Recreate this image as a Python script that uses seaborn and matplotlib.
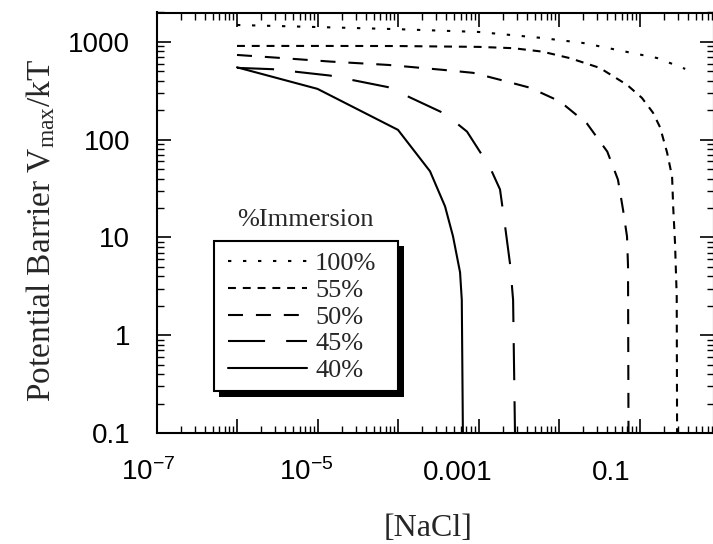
import numpy as np
import pandas as pd
import matplotlib
matplotlib.use("Agg")
import matplotlib.pyplot as plt
import seaborn as sns
from matplotlib.lines import Line2D
from matplotlib.patches import Rectangle
from matplotlib.font_manager import FontProperties
from matplotlib.transforms import ScaledTranslation
from matplotlib.ticker import FixedLocator, FixedFormatter, LogLocator, NullFormatter

# Barrier height V_max/kT against NaCl concentration (M), one curve per immersion level
nacl_100 = [1e-6, 1e-5, 1e-4, 1e-3, 6e-3, 0.02, 0.07, 0.165, 0.37]
vmax_100 = [1490, 1420, 1350, 1265, 1100, 975, 790, 685, 530]

nacl_55 = [1e-6, 1e-5, 1e-4, 1e-3, 2.7e-3, 6.2e-3, 0.0137, 0.032, 0.07, 0.107,
           0.147, 0.18, 0.22, 0.254, 0.262, 0.276, 0.290, 0.293]
vmax_55 = [910, 910, 908, 890, 863, 796, 682, 543, 364, 268,
           189, 134, 74, 42, 20.7, 8.9, 2.5, 0.1]

nacl_50 = [1e-6, 2.96e-6, 1.43e-5, 7.5e-5, 3.62e-4, 8.55e-4, 2.01e-3, 4.37e-3,
           0.0103, 0.0223, 0.0398, 0.054, 0.0624, 0.070, 0.072, 0.073]
vmax_50 = [736, 692, 630, 582, 518, 483, 403, 340,
           246, 146, 75.5, 39, 19.3, 10.2, 5.1, 0.1]

nacl_45 = [1e-6, 2.8e-6, 1.43e-5, 7.5e-5, 3.84e-4, 7.2e-4, 1.39e-3, 1.85e-3,
           2.14e-3, 2.47e-3, 2.69e-3, 2.84e-3]
vmax_45 = [543, 526, 453, 345, 184, 121, 52, 31,
           13, 5.3, 2.3, 0.1]

nacl_40 = [1e-6, 1e-5, 1e-4, 2.5e-4, 3.84e-4, 4.82e-4, 5.9e-4, 6.2e-4, 6.4e-4]
vmax_40 = [550, 331, 126, 47.5, 20.8, 10.3, 4.4, 2.3, 0.1]

immersion_labels = ["100%", "55%", "50%", "45%", "40%"]

x_ticks = [1e-7, 1e-6, 1e-5, 1e-4, 1e-3, 1e-2, 1e-1]
x_tick_labels = [r"$10^{-7}$", "", r"$10^{-5}$", "", "0.001", "", "0.1"]
y_ticks = [0.1, 1, 10, 100, 1000]
y_tick_labels = ["0.1", "1", "10", "100", "1000"]

# dash patterns (on, off) in units of line width
dash_map = {
    "100%": (1.6, 5.6),
    "55%": (3.8, 3.3),
    "50%": (7.2, 6.2),
    "45%": (17.8, 10.1),
    "40%": "",
}

frames = []
for lab, xs, ys in zip(immersion_labels,
                       [nacl_100, nacl_55, nacl_50, nacl_45, nacl_40],
                       [vmax_100, vmax_55, vmax_50, vmax_45, vmax_40]):
    frames.append(pd.DataFrame({"NaCl": xs, "Vmax": ys, "immersion": lab}))
df = pd.concat(frames, ignore_index=True)

sns.set_theme(style="ticks")
plt.rcParams.update({
    "font.family": ["Liberation Sans", "DejaVu Sans"],
    "mathtext.default": "regular",
    "axes.edgecolor": "black",
    "axes.linewidth": 1.5,
    "xtick.color": "black",
    "ytick.color": "black",
})

W, H = 713, 544
fig = plt.figure(figsize=(W / 100, H / 100), dpi=100)
left_px, right_px, top_px, bottom_px = 156.5, 714.0, 12.5, 433.0
ax = fig.add_axes([left_px / W, (H - bottom_px) / H,
                   (right_px - left_px) / W, (bottom_px - top_px) / H])
ax.set_xscale("log")
ax.set_yscale("log")

lw = 1.5
sns.lineplot(data=df, x="NaCl", y="Vmax", style="immersion",
             style_order=immersion_labels, dashes=dash_map, color="black",
             linewidth=lw, sort=False, estimator=None, legend=False, ax=ax)

ax.set_xlim(1e-7, 10 ** ((right_px - left_px) / 80.5 - 7))
ax.set_ylim(0.1, 2000)

ax.xaxis.set_major_locator(FixedLocator(x_ticks))
ax.xaxis.set_major_formatter(FixedFormatter(x_tick_labels))
ax.xaxis.set_minor_locator(LogLocator(base=10, subs=np.arange(2, 10), numticks=30))
ax.xaxis.set_minor_formatter(NullFormatter())
ax.yaxis.set_major_locator(FixedLocator(y_ticks))
ax.yaxis.set_major_formatter(FixedFormatter(y_tick_labels))
ax.yaxis.set_minor_locator(LogLocator(base=10, subs=np.arange(2, 10), numticks=30))
ax.yaxis.set_minor_formatter(NullFormatter())

ax.tick_params(which="both", direction="in", top=True, right=True, colors="black")
ax.tick_params(which="major", length=10, width=1.2, labelsize=20)
ax.tick_params(which="minor", length=5, width=1.0)
ax.tick_params(axis="x", which="major", pad=34)
ax.tick_params(axis="y", which="major", pad=19)

# x labels sit on a common baseline, set slightly left of their ticks
x_label_shift_px = [-8, 0, -11, 0, -21, 0, -28]
for t, dx in zip(ax.get_xticklabels(), x_label_shift_px):
    t.set_verticalalignment("baseline")
    t.set_transform(t.get_transform() + ScaledTranslation(dx / 100, 0, fig.dpi_scale_trans))

serif = "Liberation Serif"
ax.set_xlabel("[NaCl]", fontsize=23, family=serif)
ax.xaxis.label.set_verticalalignment("baseline")
ax.xaxis.set_label_coords((428 - left_px) / (right_px - left_px),
                          -(536 - bottom_px) / (bottom_px - top_px))
ax.set_ylabel(r"Potential Barrier V$_{max}$/kT", fontsize=24, family=serif)
ax.yaxis.set_label_coords((57 - left_px) / (right_px - left_px),
                          (bottom_px - 230) / (bottom_px - top_px))

# legend box with drop shadow
def fig_rect(x0, y0, x1, y1, **kw):
    return Rectangle((x0 / W, 1 - y1 / H), (x1 - x0) / W, (y1 - y0) / H,
                     transform=fig.transFigure, clip_on=False, **kw)

ax.add_patch(fig_rect(219, 246, 404, 397, facecolor="black", edgecolor="none", zorder=3.5))
ax.add_patch(fig_rect(214, 241, 398, 391, facecolor="white", edgecolor="black",
                      linewidth=1.5, zorder=4))

handles = []
for lab in immersion_labels:
    h = Line2D([], [], color="black", lw=lw, linestyle="-")
    if dash_map[lab]:
        h.set_dashes(dash_map[lab])
    handles.append(h)
ax.legend(handles, immersion_labels, loc="upper left",
          bbox_to_anchor=(228 / W, 1 - 252 / H), bbox_transform=fig.transFigure,
          frameon=False, borderpad=0, borderaxespad=0, handlelength=3.0,
          handletextpad=0.3, labelspacing=0.12,
          prop=FontProperties(family=serif, size=19))

ax.text(305 / W, 1 - 220 / H, "%Immersion", transform=fig.transFigure,
        ha="center", va="center", fontsize=19, family=serif)

fig.savefig("out.png", dpi=100)
